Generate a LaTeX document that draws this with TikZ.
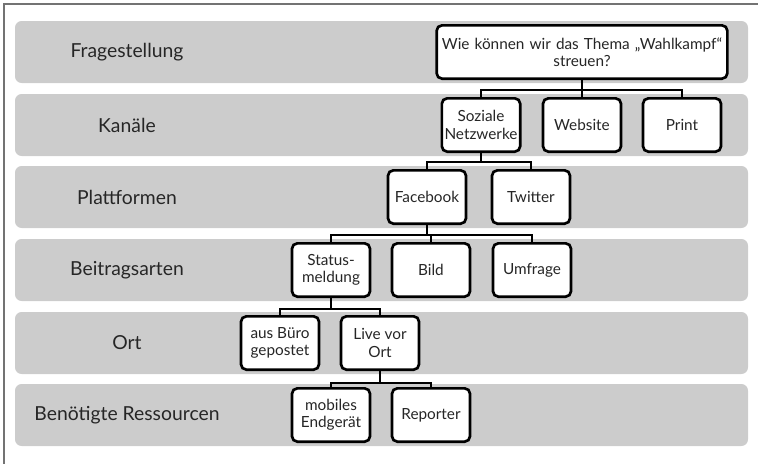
\documentclass[tikz,border=0pt]{standalone}
\usepackage{fontspec}
\setmainfont{Lato}
\usetikzlibrary{positioning}

\tikzset{
  band/.style={fill=black!20, rounded corners=5pt},
  lbl/.style={font=\fontsize{14.5}{16}\selectfont, text=black!85},
  box/.style={draw=black, line width=2pt, fill=white, rounded corners=4pt,
    minimum width=58.5pt, minimum height=40pt, inner sep=2pt, align=center,
    font=\fontsize{11.5}{13}\selectfont, text=black!85},
  link/.style={line width=1.5pt, black}
}

\begin{document}
\begin{tikzpicture}[x=0.75pt, y=-0.75pt]
                        \useasboundingbox (0,0) rectangle (758,464);
                        \draw[black!55, line width=1pt] (4,464) -- (4,4) -- (758,4);

                        % Ebenen
                        \foreach \y/\t [count=\i] in {52/Fragestellung, 125/Kanäle, 197/Plattformen,
                                270/Beitragsarten, 343/Ort, 415/Benötigte Ressourcen} {
                            \fill[band] (15,\y-31) rectangle (748,\y+31);
                            \node[lbl] (l\i) at (127,\y) {\t};
                        }

                        \node[box, text width=214pt] (q) at (582, 52) {Wie können wir das Thema „Wahlkampf“\\ streuen?};

                        \node[box] (sn) at (481, 125) {Soziale\\Netzwerke};
                        \node[box] (web) at (582, 125) {Website};
                        \node[box] (print) at (682, 125) {Print};

                        \node[box] (fb) at (427, 197) {Facebook};
                        \node[box] (tw) at (531, 197) {Twitter};

                        \node[box] (status) at (331, 270) {Status-\\meldung};
                        \node[box] (bild) at (431, 270) {Bild};
                        \node[box] (umfrage) at (532, 270) {Umfrage};

                        \node[box] (buero) at (280, 343) {aus Büro\\gepostet};
                        \node[box] (live) at (380, 343) {Live vor\\Ort};

                        \node[box] (mobil) at (331, 415) {mobiles\\Endgerät};
                        \node[box] (reporter) at (431, 415) {Reporter};

                        \draw[link] (q.south) -- ++(0,10) -| (sn.north);
                        \draw[link] (q.south) -- ++(0,10) -| (print.north);
                        \draw[link] (q.south) -- (web.north);
                        \draw[link] (sn.south) -- ++(0,9) -| (fb.north);
                        \draw[link] (sn.south) -- ++(0,9) -| (tw.north);
                        \draw[link] (fb.south) -- ++(0,10) -| (status.north);
                        \draw[link] (fb.south) -- ++(0,10) -| (umfrage.north);
                        \draw[link] (fb.south) -- ++(0,10) -| (bild.north);
                        \draw[link] (status.south) -- ++(0,11) -| (buero.north);
                        \draw[link] (status.south) -- ++(0,11) -| (live.north);
                        \draw[link] (live.south) -- ++(0,12) -| (mobil.north);
                        \draw[link] (live.south) -- ++(0,12) -| (reporter.north);
                    \end{tikzpicture}
\end{document}
